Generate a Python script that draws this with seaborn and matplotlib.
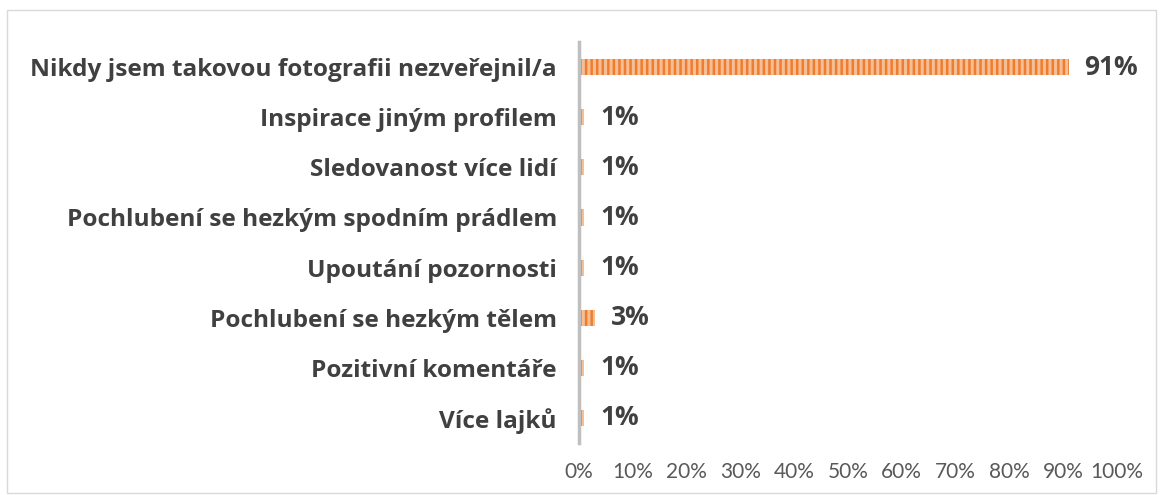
import matplotlib
matplotlib.use("Agg")
import matplotlib.pyplot as plt
import seaborn as sns
import pandas as pd
from matplotlib.patches import Rectangle

categories = [
    "Nikdy jsem takovou fotografii nezveřejnil/a",
    "Inspirace jiným profilem",
    "Sledovanost více lidí",
    "Pochlubení se hezkým spodním prádlem",
    "Upoutání pozornosti",
    "Pochlubení se hezkým tělem",
    "Pozitivní komentáře",
    "Více lajků",
]
values = [91, 1, 1, 1, 1, 3, 1, 1]
tick_values = [0, 10, 20, 30, 40, 50, 60, 70, 80, 90, 100]
tick_labels = [f"{v}%" for v in tick_values]

df = pd.DataFrame({"cat": categories, "val": values})

sns.set_theme(style="white")
plt.rcParams["font.family"] = ["Open Sans", "DejaVu Sans"]
plt.rcParams["hatch.linewidth"] = 1.8

fig = plt.figure(figsize=(11.61, 4.95), dpi=100)
ax = fig.add_axes([0.4987, 0.105, 0.4634, 0.810])

sns.barplot(data=df, y="cat", x="val", orient="h", ax=ax, width=0.32,
            color="#F7BE94", saturation=1)
for p in ax.patches:
    p.set_hatch("|||")
    p.set_edgecolor("#ED7D31")
    p.set_linewidth(0)

for i, v in enumerate(values):
    ax.annotate(f"{v}%", xy=(v, i), xytext=(16, 0), textcoords="offset pixels",
                va="center", ha="left", fontsize=19, fontweight="bold", color="#404040")

ax.set_xlim(0, 100)
ax.set_ylim(len(categories) - 0.5, -0.5)
ax.set_xticks(tick_values)
ax.set_xticklabels(tick_labels, fontsize=15, color="#595959", family=["Lato", "DejaVu Sans"])
ax.set_yticklabels(categories, fontsize=17.6, fontweight="bold", color="#404040")
ax.tick_params(axis="x", length=0, pad=14)
ax.tick_params(axis="y", length=0, pad=16)
ax.set_xlabel("")
ax.set_ylabel("")
for s in ["top", "right", "bottom"]:
    ax.spines[s].set_visible(False)
ax.spines["left"].set_color("#BFBFBF")
ax.spines["left"].set_linewidth(2.5)

fig.patches.append(Rectangle((0.006, 0.004), 0.99, 0.975, transform=fig.transFigure,
                             fill=False, edgecolor="#D9D9D9", linewidth=1))

fig.savefig("out.png", dpi=100)
